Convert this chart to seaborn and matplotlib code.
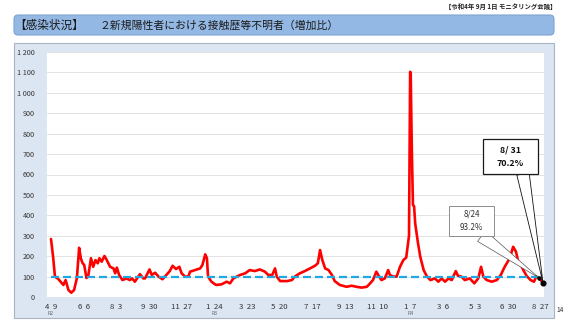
import matplotlib
matplotlib.use("Agg")
import matplotlib.pyplot as plt
import matplotlib.dates as mdates
from matplotlib.patches import Rectangle, FancyBboxPatch
import seaborn as sns
import pandas as pd

# ---------------- data ----------------
dates = [
    "2020-04-09", "2020-04-13", "2020-04-16", "2020-04-22", "2020-05-01", "2020-05-05",
    "2020-05-10", "2020-05-15", "2020-05-20", "2020-05-25", "2020-05-29", "2020-06-01",
    "2020-06-04", "2020-06-07", "2020-06-11", "2020-06-14", "2020-06-19", "2020-06-23",
    "2020-06-27", "2020-07-01", "2020-07-04", "2020-07-08", "2020-07-13", "2020-07-17",
    "2020-07-23", "2020-07-29", "2020-08-01", "2020-08-04", "2020-08-08", "2020-08-14",
    "2020-08-21", "2020-08-27", "2020-08-31", "2020-09-05", "2020-09-14", "2020-09-20",
    "2020-09-23", "2020-10-01", "2020-10-05", "2020-10-11", "2020-10-17", "2020-10-24",
    "2020-10-31", "2020-11-06", "2020-11-11", "2020-11-17", "2020-11-23", "2020-11-27",
    "2020-12-03", "2020-12-09", "2020-12-12", "2020-12-21", "2020-12-30", "2021-01-03",
    "2021-01-08", "2021-01-11", "2021-01-13", "2021-01-19", "2021-01-27", "2021-02-06",
    "2021-02-15", "2021-02-21", "2021-02-27", "2021-03-05", "2021-03-11", "2021-03-20",
    "2021-03-28", "2021-04-06", "2021-04-15", "2021-04-24", "2021-04-30", "2021-05-07",
    "2021-05-12", "2021-05-15", "2021-05-21", "2021-06-02", "2021-06-11", "2021-06-16",
    "2021-06-25", "2021-07-04", "2021-07-13", "2021-07-22", "2021-07-27", "2021-07-31",
    "2021-08-04", "2021-08-09", "2021-08-15", "2021-08-21", "2021-08-26", "2021-09-04",
    "2021-09-16", "2021-09-25", "2021-10-04", "2021-10-13", "2021-10-22", "2021-10-28",
    "2021-11-02", "2021-11-08", "2021-11-13", "2021-11-17", "2021-11-23", "2021-11-29",
    "2021-12-02", "2021-12-08", "2021-12-14", "2021-12-20", "2021-12-26", "2021-12-31",
    "2022-01-03", "2022-01-05", "2022-01-06", "2022-01-07", "2022-01-08", "2022-01-10",
    "2022-01-12", "2022-01-14", "2022-01-16", "2022-01-21", "2022-01-25", "2022-01-31",
    "2022-02-06", "2022-02-12", "2022-02-20", "2022-02-26", "2022-03-04", "2022-03-10",
    "2022-03-16", "2022-03-22", "2022-03-29", "2022-04-02", "2022-04-08", "2022-04-14",
    "2022-04-23", "2022-05-01", "2022-05-08", "2022-05-13", "2022-05-17", "2022-05-23",
    "2022-06-01", "2022-06-10", "2022-06-17", "2022-06-24", "2022-07-03", "2022-07-09",
    "2022-07-14", "2022-07-18", "2022-07-23", "2022-07-27", "2022-08-02", "2022-08-09",
    "2022-08-15", "2022-08-19", "2022-08-24", "2022-08-31",
]
ratio = [
    284, 190, 100, 88, 59, 83,
    34, 21, 34, 93, 241, 190,
    166, 157, 93, 100, 190, 148,
    181, 165, 190, 173, 201, 181,
    148, 140, 116, 144, 108, 83,
    91, 83, 91, 75, 112, 91,
    91, 135, 108, 119, 100, 87,
    108, 127, 153, 137, 148, 116,
    100, 100, 124, 132, 140, 157,
    209, 190, 100, 75, 59, 62,
    75, 67, 91, 100, 108, 116,
    132, 127, 135, 124, 108, 108,
    140, 100, 78, 78, 83, 100,
    116, 127, 140, 153, 165, 230,
    181, 140, 132, 108, 78, 59,
    50, 55, 50, 46, 50, 67,
    83, 124, 100, 83, 91, 132,
    108, 100, 100, 148, 181, 193,
    255, 300, 720, 1103, 1100, 720,
    450, 445, 360, 263, 197, 132,
    100, 83, 91, 75, 91, 75,
    91, 83, 127, 104, 100, 83,
    91, 67, 91, 148, 100, 83,
    75, 83, 108, 148, 190, 246,
    222, 173, 157, 132, 103, 83,
    75, 100, 93.2, 70.2,
]
baseline = 100

tick_dates = ["2020-04-09", "2020-06-06", "2020-08-03", "2020-09-30", "2020-11-27",
              "2021-01-24", "2021-03-23", "2021-05-20", "2021-07-17", "2021-09-13",
              "2021-11-10", "2022-01-07", "2022-03-06", "2022-05-03", "2022-06-30",
              "2022-08-27"]
tick_labels = ["4  9", "6  6", "8  3", "9  30", "11  27", "1  24", "3  23", "5  20",
               "7  17", "9  13", "11  10", "1  7", "3  6", "5  3", "6  30", "8  27"]
era_dates = ["2020-04-09", "2021-01-24", "2022-01-07"]
era_labels = ["R2", "R3", "R4"]
y_ticks = list(range(0, 1201, 100))

callout_dates = ["2022-08-24", "2022-08-31"]
callout_values = [93.2, 70.2]
callout_texts = ["8/24\n93.2%", "8/ 31\n70.2%"]

title_left = "【感染状況】"
title_main = "２新規陽性者における接触歴等不明者（増加比）"
header_note = "【令和4年 9月 1日 モニタリング会議】"
page_no = "14"

# ---------------- figure ----------------
sns.set_theme(style="white")
plt.rcParams['font.family'] = ['Noto Sans CJK JP', 'DejaVu Sans']

W, H = 569, 320
fig = plt.figure(figsize=(W / 100, H / 100), dpi=100)
fig.patch.set_facecolor("white")

# background overlay in pixel coordinates
bg = fig.add_axes([0, 0, 1, 1], zorder=0)
bg.set_xlim(0, W)
bg.set_ylim(H, 0)
bg.axis("off")

bg.add_patch(FancyBboxPatch((14, 15), 540, 20, boxstyle="round,pad=0,rounding_size=4",
                            fc="#94b8e4", ec="#7ea3d2", lw=0.8))
bg.text(14, 25.5, title_left, fontsize=8.4, va="center", ha="left", color="#1a1a1a")
bg.text(100, 25.5, title_main, fontsize=7.8, va="center", ha="left", color="#1a1a1a")
bg.text(556, 6, header_note, fontsize=4.6, va="center", ha="right", color="#222222",
        fontweight="bold")
bg.add_patch(Rectangle((14, 43), 540, 275, fc="#dce6f2", ec="#a9b4c2", lw=0.8))
bg.text(560, 310, page_no, fontsize=4.8, va="center", ha="center", color="#333333")

# main plot
ax = fig.add_axes([47 / W, 1 - 297 / H, (544 - 47) / W, (297 - 52) / H], zorder=1)
ax.set_facecolor("white")

df = pd.DataFrame({"date": pd.to_datetime(dates), "ratio": ratio})
sns.lineplot(data=df, x="date", y="ratio", ax=ax, color="#ff0000", linewidth=1.9,
             zorder=3)
ax.hlines(baseline, df["date"].iloc[0], df["date"].iloc[-1], colors="#1ea7e1",
          linestyles=(0, (3.6, 1.8)), linewidth=1.6, zorder=4)

start = pd.Timestamp(dates[0])
ax.set_xlim(start - pd.Timedelta(days=7.1), start + pd.Timedelta(days=875.8))
ax.set_ylim(0, 1200)

ax.set_yticks(y_ticks)
ax.set_yticklabels([f"{v:,}".replace(",", " ") for v in y_ticks])
ax.set_xticks(pd.to_datetime(tick_dates))
ax.set_xticklabels(tick_labels)
ax.tick_params(axis="y", length=0, pad=9, labelsize=5.2, labelcolor="#333333")
ax.tick_params(axis="x", length=0, pad=4.5, labelsize=5.6, labelcolor="#333333")
ax.grid(axis="y", color="#dedede", linewidth=0.6)
ax.grid(axis="x", visible=False)
ax.set_axisbelow(True)
for s in ax.spines.values():
    s.set_visible(False)
ax.set_xlabel("")
ax.set_ylabel("")

for d, lab in zip(era_dates, era_labels):
    ax.text(pd.Timestamp(d), -0.068, lab, transform=ax.get_xaxis_transform(),
            fontsize=3.6, color="#666666", ha="center", va="center")

# foreground overlay for callouts
fg = fig.add_axes([0, 0, 1, 1], zorder=3)
fg.set_xlim(0, W)
fg.set_ylim(H, 0)
fg.axis("off")
fg.patch.set_alpha(0)

# 8/24 callout
fg.add_patch(Rectangle((449, 206), 45, 30, fc="white", ec="#8c8c8c", lw=0.7, zorder=2))
fg.text(471.5, 221, callout_texts[0], fontsize=5.8, ha="center", va="center",
        color="#333333", linespacing=1.6, zorder=3)
fg.annotate("", xy=(mdates.date2num(pd.Timestamp(callout_dates[0])), callout_values[0]),
            xycoords=ax.transData, xytext=(481.5, 236), textcoords="data",
            arrowprops=dict(arrowstyle="wedge,tail_width=0.95,shrink_factor=0.5",
                            fc="white", ec="#555555", lw=0.5, shrinkA=0, shrinkB=0,
                            mutation_scale=10), zorder=1)

# 8/31 callout
fg.add_patch(Rectangle((483, 139), 55, 35, fc="white", ec="#1a1a1a", lw=0.9, zorder=2))
fg.text(510.5, 156.5, callout_texts[1], fontsize=6.4, ha="center", va="center",
        color="#111111", fontweight="bold", linespacing=1.6, zorder=3)
fg.annotate("", xy=(mdates.date2num(pd.Timestamp(callout_dates[1])), callout_values[1]),
            xycoords=ax.transData, xytext=(523, 174), textcoords="data",
            arrowprops=dict(arrowstyle="wedge,tail_width=0.9,shrink_factor=0.5",
                            fc="white", ec="#111111", lw=0.6, shrinkA=0, shrinkB=0,
                            mutation_scale=10), zorder=1)

fg.plot([mdates.date2num(pd.Timestamp(callout_dates[0]))], [callout_values[0]], "o",
        color="black", markersize=2.2, transform=ax.transData, zorder=5)
fg.plot([mdates.date2num(pd.Timestamp(callout_dates[1]))], [callout_values[1]], "o",
        color="black", markersize=3.4, transform=ax.transData, zorder=5)

fig.savefig("out.png", dpi=100, facecolor="white")
